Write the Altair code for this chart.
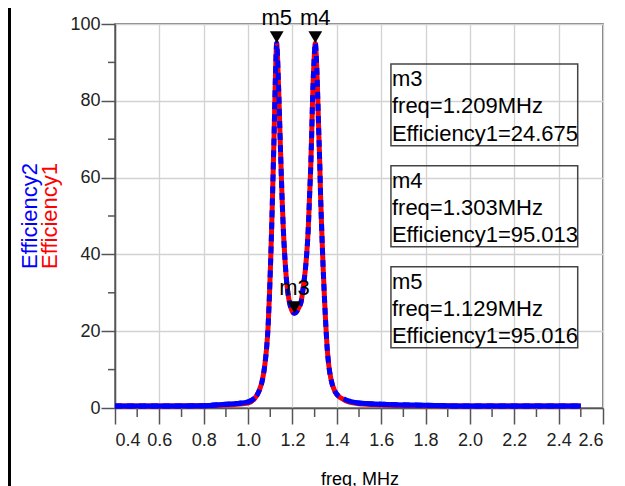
import altair as alt
import pandas as pd

# ---- data ----
freq = [0.40, 0.60, 0.80, 0.90, 0.95, 1.00, 1.03, 1.05, 1.065, 1.075, 1.084, 1.09, 1.096, 1.101,
        1.106, 1.110, 1.114, 1.118, 1.121, 1.125, 1.129, 1.133, 1.136, 1.139, 1.144, 1.148,
        1.153, 1.159, 1.166, 1.173, 1.180, 1.187, 1.198, 1.209, 1.220, 1.229, 1.238, 1.25,
        1.261, 1.271, 1.277, 1.283, 1.287, 1.291, 1.297, 1.303, 1.308, 1.314, 1.318, 1.323,
        1.327, 1.332, 1.338, 1.344, 1.350, 1.356, 1.364, 1.374, 1.39, 1.40, 1.419, 1.457,
        1.50, 1.60, 1.80, 2.00, 2.50]
eff1 = [0.5, 0.5, 0.6, 0.8, 1.0, 1.3, 2.5, 4.5, 7.4, 11, 16, 21, 29, 37,
        46.4, 55, 63.8, 73, 81, 90, 95.016, 91, 86, 81, 71, 63.8,
        55, 46.4, 39, 33.4, 29.8, 27.4, 25.3, 24.675, 25.2, 26.2, 27.4, 32,
        37.8, 46.4, 55, 63.8, 72, 81, 90, 95.013, 91, 81, 73, 63.8,
        55, 46.4, 37, 29, 22, 16, 11, 7.4, 4.5, 3.5, 2.6, 1.5,
        1.1, 0.8, 0.6, 0.5, 0.5]
eff2 = [0.5, 0.5, 0.6, 1.0, 1.2, 1.6, 2.6, 4.5, 7.4, 11, 16, 21, 29, 37,
        46.4, 55, 63.8, 73, 81, 90, 95.016, 91, 86, 81, 71, 63.8,
        55, 46.4, 39, 33.4, 29.8, 27.4, 25.3, 24.675, 25.2, 26.2, 27.4, 32,
        37.8, 46.4, 55, 63.8, 72, 81, 90, 95.013, 91, 81, 73, 63.8,
        55, 46.4, 37, 29, 22, 16, 11, 7.4, 4.5, 3.6, 2.8, 1.8,
        1.3, 1.0, 0.7, 0.5, 0.5]

marker_names = ["m3", "m4", "m5"]
marker_freq = [1.209, 1.303, 1.129]
marker_eff = [24.675, 95.013, 95.016]

x_major = [0.4, 0.6, 0.8, 1.0, 1.2, 1.4, 1.6, 1.8, 2.0, 2.2, 2.4, 2.6]
x_minor = [0.5, 0.7, 0.9, 1.1, 1.3, 1.5, 1.7, 1.9, 2.1, 2.3, 2.5]
y_major = [0, 20, 40, 60, 80, 100]
y_minor = [10, 30, 50, 70, 90]

df = pd.DataFrame({"freq": freq, "e1": eff1, "e2": eff2})
mk = pd.DataFrame({"name": marker_names, "freq": marker_freq, "eff": marker_eff})
mk["label"] = [f"{n}\nfreq={f:.3f}MHz\nEfficiency1={e:.3f}" for n, f, e in zip(marker_names, marker_freq, marker_eff)]
# marker readout boxes (placed in data coordinates)
mk["bx1"] = 1.644
mk["bx2"] = 2.486
mk["btop"] = [89.6, 63.1, 36.8]
mk["bbot"] = [68.3, 42.0, 15.7]

W, H = 488, 384
TICK_FONT = "'Liberation Sans Narrow', 'Liberation Sans', Arial, sans-serif"
FONT = "'Liberation Sans', Arial, sans-serif"
AX = "#555555"

xs = alt.Scale(domain=[0.4, 2.6], nice=False, zero=False)
ys = alt.Scale(domain=[0, 100], nice=False)

xenc = alt.X("freq:Q", scale=xs, axis=alt.Axis(
    values=x_major, format=".1f", title=None, tickSize=16, tickWidth=1.5, tickColor=AX,
    domainColor=AX, domainWidth=1.5, grid=True, gridColor="#d2d2d2", gridWidth=1.3,
    labelFont=TICK_FONT, labelFontSize=18, labelColor="#222", labelPadding=7))
yax = alt.Axis(values=y_major, title=None, tickSize=14, tickWidth=1.5, tickColor=AX,
               domainColor=AX, domainWidth=1.5, grid=True, gridColor="#d2d2d2", gridWidth=1.3,
               labelFont=TICK_FONT, labelFontSize=18, labelColor="#222", labelPadding=1)

base = alt.Chart(df)
red = base.mark_line(color="#ff0000", strokeWidth=5, interpolate="monotone").encode(
    x=xenc, y=alt.Y("e1:Q", scale=ys, axis=yax))
blue_dash = base.mark_line(color="#0000ff", strokeWidth=5, strokeDash=[7, 5],
                           interpolate="monotone").encode(x="freq:Q", y="e2:Q")
blue_lo = base.transform_filter("datum.freq <= 1.03").mark_line(
    color="#0000ff", strokeWidth=5, interpolate="monotone").encode(x="freq:Q", y="e2:Q")
blue_hi = base.transform_filter("datum.freq >= 1.457").mark_line(
    color="#0000ff", strokeWidth=5, interpolate="monotone").encode(x="freq:Q", y="e2:Q")

mbase = alt.Chart(mk)
boxes = mbase.mark_rect(fillOpacity=0, stroke="#444", strokeWidth=1.5).encode(
    x="bx1:Q", x2="bx2:Q", y="btop:Q", y2="bbot:Q")
box_text = mbase.mark_text(align="left", baseline="top", lineBreak="\n", lineHeight=27.3,
                           fontSize=22, font=FONT, color="#000", dx=1, dy=5).encode(
    x="bx1:Q", y="btop:Q", text="label:N")
tri = mbase.mark_point(shape="triangle-down", filled=True, color="#000", size=190,
                       opacity=1, yOffset=-6).encode(x="freq:Q", y="eff:Q")
mlab = mbase.mark_text(fontSize=22, font=FONT, color="#000", baseline="alphabetic",
                       dy=-18).encode(x="freq:Q", y="eff:Q", text="name:N")

xminor = alt.Chart(pd.DataFrame({"v": x_minor})).mark_rule(color=AX, strokeWidth=1.5).encode(
    x="v:Q", y=alt.value(H), y2=alt.value(H + 9))
yminor = alt.Chart(pd.DataFrame({"v": y_minor})).mark_rule(color=AX, strokeWidth=1.5).encode(
    y="v:Q", x=alt.value(0), x2=alt.value(-7))

ytitle2 = alt.Chart(pd.DataFrame({"t": ["Efficiency2"]})).mark_text(
    angle=270, fontSize=22, font=FONT, color="#0000ff", align="center", baseline="middle").encode(
    x=alt.value(-85), y=alt.value(192), text="t:N")
ytitle1 = alt.Chart(pd.DataFrame({"t": ["Efficiency1"]})).mark_text(
    angle=270, fontSize=22, font=FONT, color="#ff0000", align="center", baseline="middle").encode(
    x=alt.value(-65), y=alt.value(192), text="t:N")
xtitle = alt.Chart(pd.DataFrame({"t": ["freq, MHz"]})).mark_text(
    fontSize=18, font=FONT, color="#000", align="center", baseline="alphabetic").encode(
    x=alt.value(245), y=alt.value(461), text="t:N")
border = alt.Chart(pd.DataFrame({"t": [0]})).mark_rule(color="#000", strokeWidth=3).encode(
    x=alt.value(-105.5), y=alt.value(-20), y2=alt.value(H + 80))

chart = alt.layer(
    boxes, red, blue_dash, blue_lo, blue_hi, tri, mlab, box_text,
    xminor, yminor, ytitle2, ytitle1, xtitle, border
).properties(
    width=W, height=H,
    autosize=alt.AutoSizeParams(type="none"),
    padding={"left": 107, "top": 16, "right": 14, "bottom": 78},
    background="white",
).configure_view(stroke=AX, strokeWidth=1.5)

chart.save("out.html", embed_options={"renderer": "svg", "actions": False})
